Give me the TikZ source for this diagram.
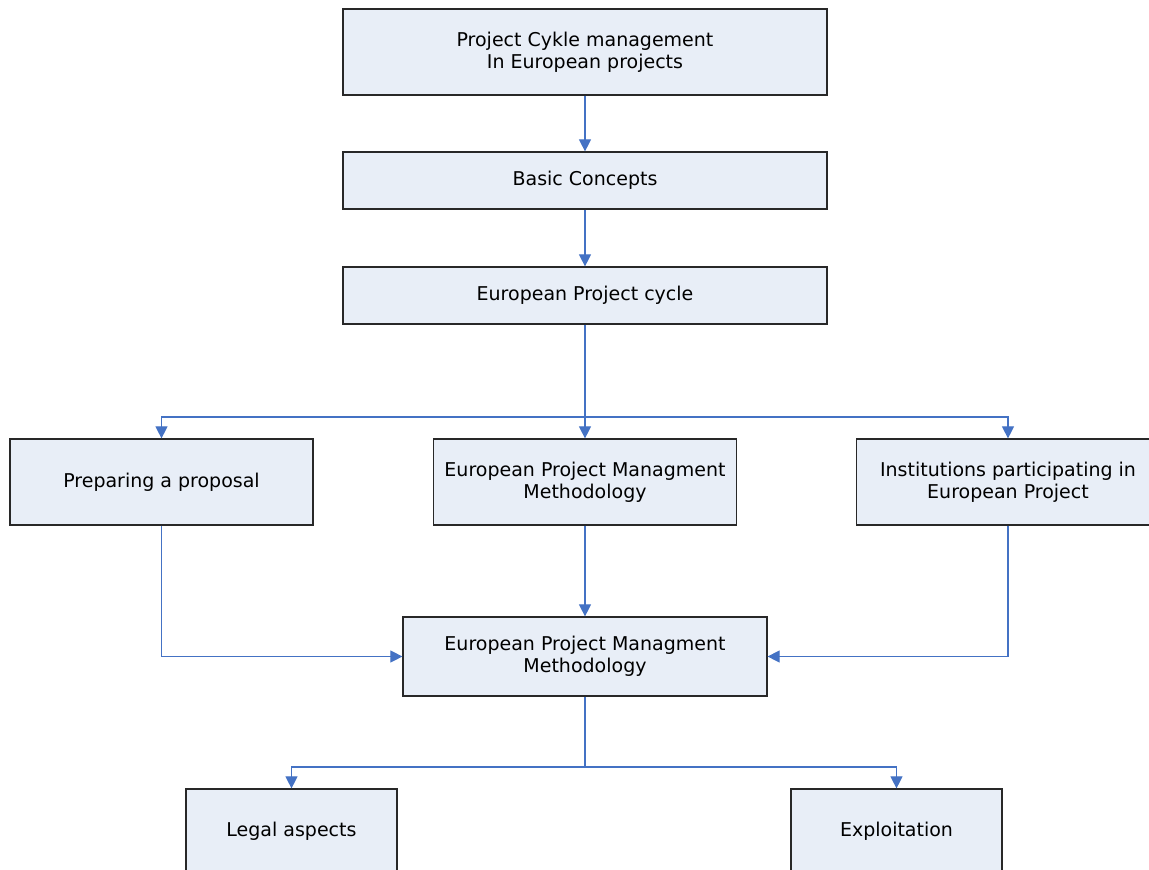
\documentclass[tikz,border=0pt]{standalone}
\usepackage{fontspec}
\setmainfont{DejaVu Sans}
\usetikzlibrary{arrows.meta}
\definecolor{linkblue}{RGB}{68,114,196}
\definecolor{boxfill}{RGB}{232,238,247}
\definecolor{boxline}{RGB}{40,40,40}
\begin{document}
\begin{tikzpicture}[x=1pt,y=1pt,
  box/.style={draw=boxline, fill=boxfill, line width=1.2pt, align=center,
    inner sep=0pt, font=\fontsize{19}{22}\selectfont},
  link/.style={draw=linkblue, line width=1.1pt, -{Triangle[length=12pt,width=12pt]}}]
\clip (0,0) rectangle (1149,-870);
\node[box, minimum width=484, minimum height=86] (pcm) at (585,-52) {Project Cykle management\\In European projects};
\node[box, minimum width=484, minimum height=57] (basic) at (585,-180.5) {Basic Concepts};
\node[box, minimum width=484, minimum height=57] (cycle) at (585,-295.5) {European Project cycle};
\node[box, minimum width=303, minimum height=86] (proposal) at (161.5,-482) {Preparing a proposal};
\node[box, minimum width=303, minimum height=86] (method) at (585,-482) {European Project Managment\\Methodology};
\node[box, minimum width=303, minimum height=86] (inst) at (1008,-482) {Institutions participating in\\European Project};
\node[box, minimum width=364, minimum height=79] (central) at (585,-656.5) {European Project Managment\\Methodology};
\node[box, minimum width=211, minimum height=84] (legal) at (291.5,-831) {Legal aspects};
\node[box, minimum width=211, minimum height=84] (exploit) at (896.5,-831) {Exploitation};
%% top chain
\draw[link] (pcm) -- (basic);
\draw[link] (basic) -- (cycle);
\draw[link] (cycle) -- (method);
\coordinate (fork1) at (585,-417);
\draw[link] (fork1) -| (proposal);
\draw[link] (fork1) -| (inst);
%% into the central box
\draw[link] (proposal) |- (central);
\draw[link] (method) -- (central);
\draw[link] (inst) |- (central);
\coordinate (fork2) at (585,-767);
\draw[draw=linkblue, line width=1.1pt] (central) -- (fork2);
\draw[link] (fork2) -| (legal);
\draw[link] (fork2) -| (exploit);
\end{tikzpicture}
\end{document}
